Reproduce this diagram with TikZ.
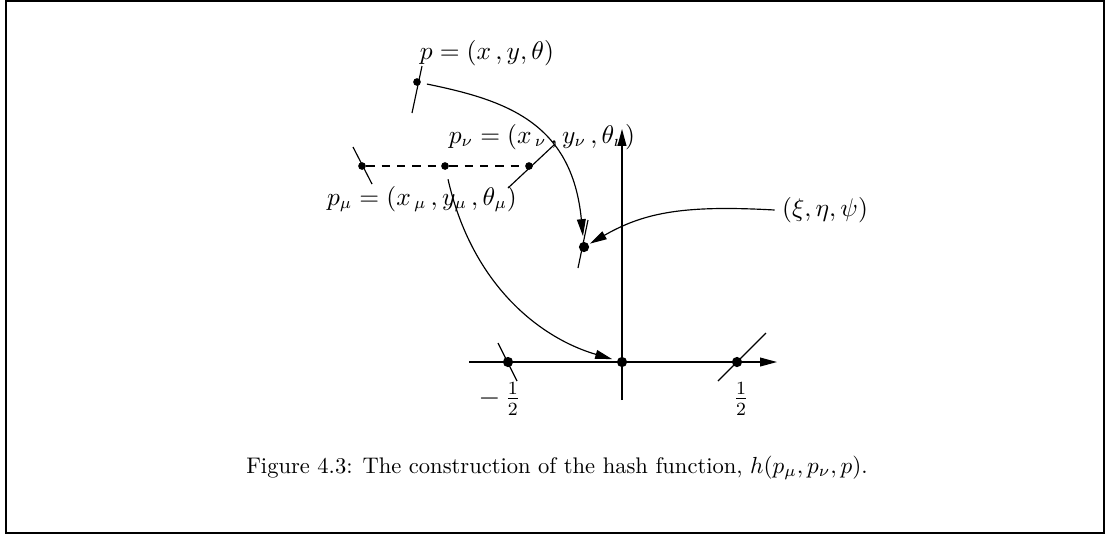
\documentclass[tikz,border=0pt]{standalone}
\usetikzlibrary{arrows.meta}
\begin{document}
\begin{tikzpicture}[x=0.43pt,y=-0.43pt,
  sdot/.style={circle,fill,inner sep=0pt,minimum size=3.3pt},
  ldot/.style={circle,fill,inner sep=0pt,minimum size=4.4pt},
  lab/.style={font=\fontsize{10.5}{12}\selectfont,inner sep=0pt},
  tickline/.style={line width=0.5pt},
  conn/.style={line width=0.5pt,-{Triangle[length=7.3pt,width=3.8pt]}},
  framebox/.style={line width=0.9pt}]
\useasboundingbox (0,0) rectangle (1113,536);
\draw[framebox] (6,1) rectangle (1104,533);
% axes
\coordinate (xs) at (469,362);
\coordinate (xe) at (777,362);
\coordinate (ys) at (622,400);
\coordinate (ye) at (622,129);
\draw[conn] (xs) -- (xe);
\draw[conn] (ys) -- (ye);
% points
\node[sdot] (p) at (417,82) {};
\node[sdot] (L) at (362,166) {};
\node[sdot] (M) at (445,166) {};
\node[sdot] (R) at (529,166) {};
\node[ldot] (Q) at (584,247) {};
\node[ldot] (A) at (508,362) {};
\node[ldot] (O) at (622,362) {};
\node[ldot] (B) at (737,362) {};
% orientation ticks
\coordinate (p1) at (422,66);  \coordinate (p2) at (412,113);
\coordinate (L1) at (353,147); \coordinate (L2) at (372,184);
\coordinate (R1) at (555,144); \coordinate (R2) at (508,188);
\coordinate (Q1) at (588,220); \coordinate (Q2) at (578,268);
\coordinate (A1) at (498,343); \coordinate (A2) at (517,381);
\coordinate (B1) at (766,333); \coordinate (B2) at (718,381);
\draw[tickline] (p1) -- (p2);
\draw[tickline] (L1) -- (L2);
\draw[tickline] (R1) -- (R2);
\draw[tickline] (Q1) -- (Q2);
\draw[tickline] (A1) -- (A2);
\draw[tickline] (B1) -- (B2);
% dashed line
\draw[tickline,dash pattern=on 3.6pt off 3pt] (L) -- (M) -- (R);
% labels
\node[lab,anchor=base] (plab) at (487,59) {$p = (x\,,y,\theta)$};
\node[lab,anchor=base] (nulab) at (542,143) {$p_\nu = (x_{\,\nu}\,,y_\nu\,,\theta_\nu)$};
\node[lab,anchor=base] (mulab) at (422,205) {$p_\mu = (x_{\,\mu}\,,y_\mu\,,\theta_\mu)$};
\node[lab,inner sep=3pt] (xi) at (825,210) {$(\xi,\eta,\psi)$};
\node[lab,font=\fontsize{11.5}{13}\selectfont,anchor=east] (mh) at (521,399) {$-\,\frac{1}{2}$};
\node[lab,font=\fontsize{11.5}{13}\selectfont] (ph) at (741,399) {$\frac{1}{2}$};
\node[font=\fontsize{9.7}{12}\selectfont,anchor=base] (cap) at (557,473)
  {Figure 4.3: The construction of the hash function, $h(p_\mu, p_\nu, p)$.};
% connectors
\draw[conn,shorten <=2.5pt,shorten >=2.3pt] (p) .. controls (505,100) and (572,122) .. (Q);
\draw[conn,shorten >=0.5pt] (xi.west) .. controls (685,205) and (645,212) .. (Q);
\draw[conn,shorten <=4pt,shorten >=2pt] (M) .. controls (472,285) and (540,338) .. (O);
\end{tikzpicture}
\end{document}
